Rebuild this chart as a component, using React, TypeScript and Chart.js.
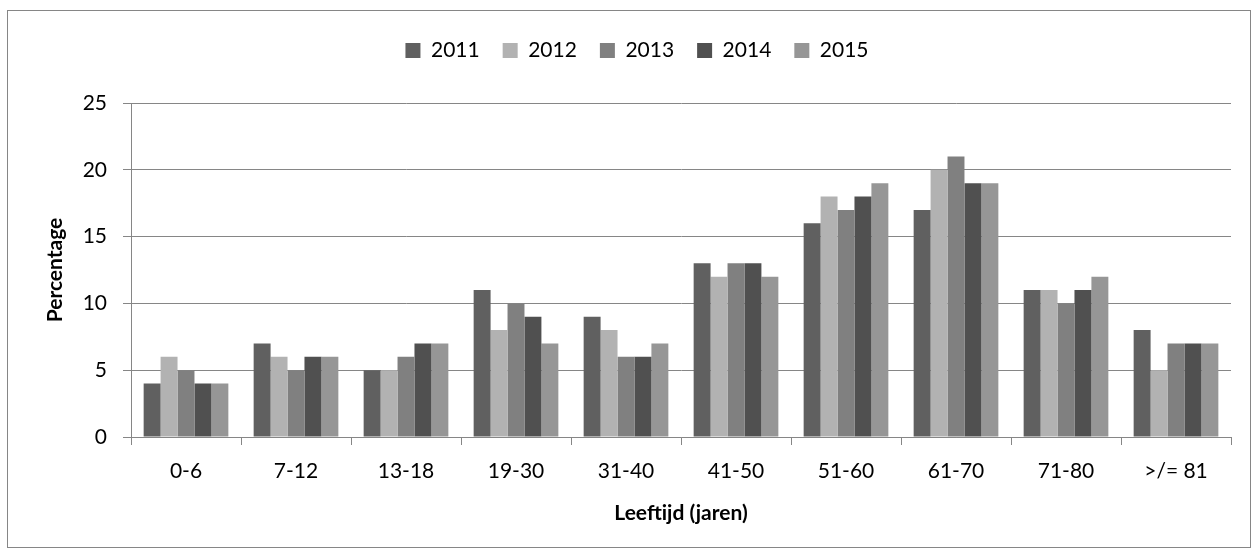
import React, { useEffect, useRef } from 'react';
import { Chart, registerables } from 'chart.js';

Chart.register(...registerables);

const categories = ['0-6', '7-12', '13-18', '19-30', '31-40', '41-50', '51-60', '61-70', '71-80', '>/= 81'];
const seriesNames = ['2011', '2012', '2013', '2014', '2015'];
const values2011 = [4, 7, 5, 11, 9, 13, 16, 17, 11, 8];
const values2012 = [6, 6, 5, 8, 8, 12, 18, 20, 11, 5];
const values2013 = [5, 5, 6, 10, 6, 13, 17, 21, 10, 7];
const values2014 = [4, 6, 7, 9, 6, 13, 18, 19, 11, 7];
const values2015 = [4, 6, 7, 7, 7, 12, 19, 19, 12, 7];
const seriesColors = ['#606060', '#b2b2b2', '#808080', '#505050', '#969696'];
const yMin = 0;
const yMax = 25;
const yStep = 5;
const yTitle = 'Percentage';
const xTitle = 'Leeftijd (jaren)';

const GRID = '#868686';
const FONT = 'Lato';
const FS = 21;

// legend placement (layout only)
const LEGEND_CENTER_X = 637;
const LEGEND_TOP = 17;

const legendShift = {
  id: 'legendShift',
  afterLayout(chart: any) {
    const lg = chart.legend;
    if (!lg) return;
    const dx = LEGEND_CENTER_X - (lg.left + lg.right) / 2;
    const dy = LEGEND_TOP - lg.top;
    lg.left += dx;
    lg.right += dx;
    lg.top += dy;
    lg.bottom += dy;
  },
};

export default function App() {
  const ref = useRef<HTMLCanvasElement | null>(null);

  useEffect(() => {
    if (!ref.current) return;
    const allValues = [values2011, values2012, values2013, values2014, values2015];
    const chart = new Chart(ref.current, {
      type: 'bar',
      data: {
        labels: categories,
        datasets: seriesNames.map((name, i) => ({
          label: name,
          data: allValues[i],
          backgroundColor: seriesColors[i],
          borderWidth: 0,
          categoryPercentage: 0.77,
          barPercentage: 1.0,
        })),
      },
      options: {
        animation: false,
        responsive: false,
        devicePixelRatio: 1,
        layout: { padding: { top: 49, left: 0, right: 27, bottom: 0 } },
        font: { family: FONT, size: FS },
        plugins: {
          tooltip: { enabled: false },
          title: { display: false },
          legend: {
            display: true,
            position: 'top',
            labels: {
              boxWidth: 15,
              boxHeight: 15,
              padding: 23,
              color: '#000',
              font: { family: FONT, size: FS },
            },
          },
        },
        scales: {
          x: {
            type: 'category',
            offset: true,
            grid: {
              display: true,
              offset: true,
              drawOnChartArea: false,
              drawTicks: true,
              tickLength: 8,
              color: GRID,
              lineWidth: 1,
            },
            border: { display: true, color: GRID, width: 1 },
            ticks: {
              color: '#000',
              padding: 14,
              maxRotation: 0,
              autoSkip: false,
              font: { family: FONT, size: FS },
            },
            title: {
              display: true,
              text: xTitle,
              color: '#000',
              font: { family: FONT, size: FS, weight: 'bold' },
              padding: { top: 0, bottom: 30 },
            },
            afterFit: (s: any) => {
              s.height = 119;
            },
          },
          y: {
            type: 'linear',
            min: yMin,
            max: yMax,
            grid: {
              display: true,
              drawOnChartArea: true,
              drawTicks: true,
              tickLength: 8,
              color: GRID,
              lineWidth: 1,
            },
            border: { display: true, color: GRID, width: 1 },
            ticks: {
              stepSize: yStep,
              color: '#000',
              padding: 16,
              font: { family: FONT, size: FS },
            },
            title: {
              display: true,
              text: yTitle,
              color: '#000',
              font: { family: FONT, size: FS, weight: 'bold' },
              padding: { top: 43, bottom: 0 },
            },
            afterFit: (s: any) => {
              s.width = 131;
            },
          },
        },
      },
      plugins: [legendShift],
    });
    return () => chart.destroy();
  }, []);

  return (
    <div style={{ position: 'absolute', left: 0, top: 0, width: 1258, height: 556, background: '#fff' }}>
      <canvas ref={ref} width={1258} height={556} style={{ position: 'absolute', left: 0, top: 0 }} />
      <div
        style={{
          position: 'absolute',
          left: 7,
          top: 10,
          width: 1244,
          height: 538,
          border: `1px solid ${GRID}`,
          boxSizing: 'border-box',
          pointerEvents: 'none',
        }}
      />
    </div>
  );
}
